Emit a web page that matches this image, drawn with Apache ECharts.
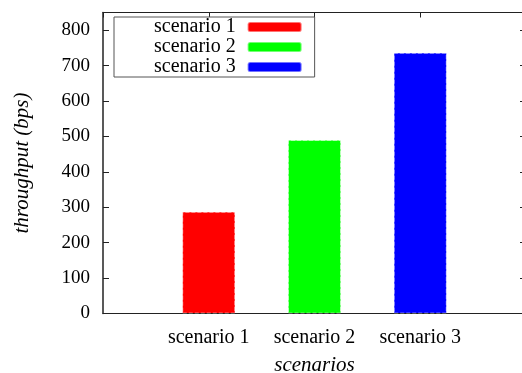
<!DOCTYPE html>
<html>
<head>
<meta charset="utf-8">
<script src="https://cdn.jsdelivr.net/npm/echarts@6/dist/echarts.min.js"></script>
<style>html,body{margin:0;padding:0;background:#fff}#c{width:522px;height:373px}</style>
</head>
<body>
<div id="c"></div>
<script>
var categories = ['scenario 1', 'scenario 2', 'scenario 3'];
var values = [287, 490, 736];
var colors = ['#ff0000', '#00ff00', '#0000ff'];
var yTicks = [0, 100, 200, 300, 400, 500, 600, 700, 800];

var FONT = 'Liberation Serif';
var chart = echarts.init(document.getElementById('c'), null, {renderer: 'canvas'});
var series = categories.map(function (name, i) {
  return {
    name: name,
    type: 'bar',
    stack: 'all',
    barWidth: 53,
    data: [[i + 1, values[i]]],
    itemStyle: {color: colors[i], borderColor: 'rgba(255,255,255,0.45)', borderWidth: 1, borderType: 'dashed'},
    emphasis: {disabled: true}
  };
});
var axisLineStyle = {color: '#222', width: 1};
chart.setOption({
  animation: false,
  textStyle: {fontFamily: FONT},
  grid: {left: 103, top: 12.5, width: 423, bottom: 59.5, containLabel: false, outerBoundsMode: 'none'},
  legend: {
    orient: 'vertical', left: 114, top: 17, align: 'right',
    itemWidth: 54, itemHeight: 10, itemGap: 0,
    padding: [0, 12, 0, 40],
    borderColor: '#555', borderWidth: 1, backgroundColor: '#fff',
    textStyle: {fontFamily: FONT, fontSize: 20, lineHeight: 20, color: '#000', padding: [0, 7, 0, 0]},
    data: categories, z: 10
  },
  xAxis: [{
    type: 'value', min: 0, max: 4, interval: 1, position: 'bottom',
    axisLine: {onZero: false, lineStyle: axisLineStyle}, axisTick: {show: false}, splitLine: {show: false},
    axisLabel: {margin: 14, fontFamily: FONT, fontSize: 20, color: '#000',
      formatter: function (v) { return categories[v - 1] || ''; }},
    name: 'scenarios', nameLocation: 'middle', nameGap: 41,
    nameTextStyle: {fontFamily: FONT, fontSize: 21, fontStyle: 'italic', color: '#000'}
  }, {
    type: 'value', min: 0, max: 4, interval: 1, position: 'top',
    axisLine: {onZero: false, lineStyle: axisLineStyle}, axisTick: {inside: true, length: 5, lineStyle: {color: '#222'}},
    axisLabel: {show: false}, splitLine: {show: false}
  }],
  yAxis: [{
    type: 'value', min: 0, max: 850, interval: 100, position: 'left',
    axisLine: {show: true, onZero: false, lineStyle: {color: '#222', width: 1.5}},
    axisTick: {show: true, inside: true, length: 6, lineStyle: {color: '#222', width: 1}},
    splitLine: {show: false},
    axisLabel: {margin: 13, fontFamily: FONT, fontSize: 19, color: '#000', showMaxLabel: false,
      formatter: function (v) { return yTicks.indexOf(v) >= 0 ? String(v) : ''; }},
    name: 'throughput (bps)', nameLocation: 'middle', nameGap: 70,
    nameTextStyle: {fontFamily: FONT, fontSize: 21, fontStyle: 'italic', color: '#000'}
  }, {
    type: 'value', min: 0, max: 850, interval: 100, position: 'right',
    axisLine: {show: true, onZero: false, lineStyle: axisLineStyle},
    axisTick: {show: true, inside: true, length: 6, lineStyle: {color: '#222'}},
    axisLabel: {show: false}, splitLine: {show: false}
  }, {
    type: 'value', min: 0, max: 850, interval: 100, position: 'right', offset: -423,
    axisLine: {show: true, onZero: false, lineStyle: {color: '#222', width: 1, opacity: 0}},
    axisTick: {show: true, inside: false, length: 6, lineStyle: {color: '#222', width: 1}},
    axisLabel: {show: false}, splitLine: {show: false}
  }],
  series: series
});
</script>
</body>
</html>
